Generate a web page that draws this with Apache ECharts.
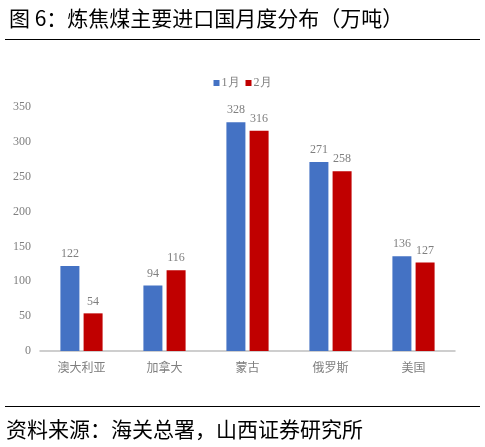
<!DOCTYPE html>
<html>
<head>
<meta charset="utf-8">
<script src="https://cdn.jsdelivr.net/npm/echarts@6/dist/echarts.min.js"></script>
<style>
  html, body { margin: 0; padding: 0; background: #fff; }
  #chart { width: 485px; height: 447px; }
</style>
</head>
<body>
<div id="chart"></div>
<script>
const countries = ["澳大利亚", "加拿大", "蒙古", "俄罗斯", "美国"];
const janValues = [122, 94, 328, 271, 136];
const febValues = [54, 116, 316, 258, 127];
const seriesNames = ["1月", "2月"];

const chart = echarts.init(document.getElementById("chart"));

const labelStyle = {
  show: true,
  position: "top",
  color: "#7f7f7f",
  fontSize: 12,
  fontFamily: "Liberation Serif",
  distance: 6,
};

chart.setOption({
  animation: false,
  title: {
    text: "图 6：炼焦煤主要进口国月度分布（万吨）",
    left: 4,
    top: 3,
    textStyle: {
      fontSize: 21,
      fontWeight: "normal",
      color: "#000",
      fontFamily: "Noto Sans CJK SC",
    },
  },
  graphic: [
    { type: "line", shape: { x1: 5, y1: 39.5, x2: 480, y2: 39.5 }, style: { stroke: "#000", lineWidth: 1 } },
    { type: "line", shape: { x1: 5, y1: 406.5, x2: 480, y2: 406.5 }, style: { stroke: "#000", lineWidth: 1 } },
    {
      type: "text",
      left: 6,
      top: 419,
      style: {
        text: "资料来源：海关总署，山西证券研究所",
        fontSize: 21,
        fill: "#000",
        fontFamily: "Noto Sans CJK SC",
      },
    },
  ],
  legend: {
    data: seriesNames,
    top: 72,
    left: "center",
    itemWidth: 6,
    itemHeight: 6,
    itemGap: 6,
    icon: "rect",
    textStyle: { color: "#7f7f7f", fontSize: 12, fontFamily: "Liberation Serif", padding: [0, 0, 0, -3] },
  },
  grid: { left: 40, right: 30, top: 107, bottom: 96 },
  xAxis: {
    type: "category",
    data: countries,
    axisLine: { lineStyle: { color: "#bfbfbf", width: 1.5 } },
    axisTick: { show: false },
    axisLabel: { color: "#7f7f7f", fontSize: 12, fontFamily: "Noto Sans CJK SC", margin: 10 },
  },
  yAxis: {
    type: "value",
    min: 0,
    max: 350,
    interval: 50,
    axisLine: { show: false },
    axisTick: { show: false },
    splitLine: { show: false },
    axisLabel: { color: "#7f7f7f", fontSize: 12, fontFamily: "Liberation Serif", margin: 9 },
  },
  series: [
    {
      name: seriesNames[0],
      type: "bar",
      data: janValues,
      barWidth: 19,
      barGap: "22%",
      itemStyle: { color: "#4472C4" },
      label: labelStyle,
    },
    {
      name: seriesNames[1],
      type: "bar",
      data: febValues,
      barWidth: 19,
      itemStyle: { color: "#C00000" },
      label: labelStyle,
    },
  ],
});
</script>
</body>
</html>
